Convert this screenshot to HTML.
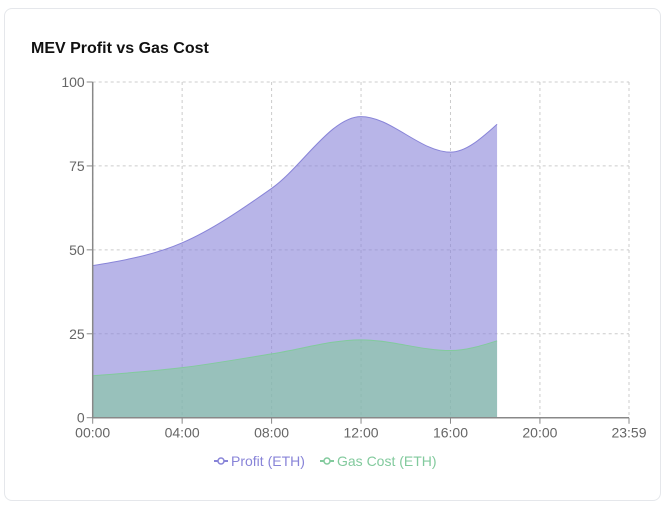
<!DOCTYPE html>
<html><head><meta charset="utf-8"><style>
body{margin:0;background:#fff;font-family:"Liberation Sans",sans-serif;}
.card{position:absolute;left:4px;top:8px;width:655px;height:491px;border:1px solid #e5e7eb;border-radius:8px;background:#fff;}
.title{position:absolute;left:26px;top:31px;font-size:16px;font-weight:bold;color:#111;}
</style></head><body>
<div class="card">
<div class="title">MEV Profit vs Gas Cost</div>
</div>
<svg id="chart" width="666" height="507" style="position:absolute;left:0;top:0"></svg>
<script>
const times = [0, 240, 480, 720, 960, 1085];
const profit = [45.3, 52.1, 68.3, 89.7, 79.1, 87.4];
const gas = [12.5, 14.9, 19, 23.2, 20, 22.9];
const xTicks = [0, 240, 480, 720, 960, 1200, 1439];
const xTickLabels = ["00:00","04:00","08:00","12:00","16:00","20:00","23:59"];
const yTicks = [0, 25, 50, 75, 100];

const X0=92.7,X1=629,Y0=417.7,Y1=82;
const x=t=>X0+(t/1439)*(X1-X0);
const y=v=>Y0-(v/100)*(Y0-Y1);
const svg=document.getElementById('chart');
const NS='http://www.w3.org/2000/svg';
function mk(tag,attrs,parent){const e=document.createElementNS(NS,tag);for(const k in attrs)e.setAttribute(k,attrs[k]);(parent||svg).appendChild(e);return e;}

function monotone(px,py){
  const n=px.length,d=[],m=new Array(n).fill(0);
  for(let i=0;i<n-1;i++)d.push((py[i+1]-py[i])/(px[i+1]-px[i]));
  for(let i=1;i<n-1;i++){const h0=px[i]-px[i-1],h1=px[i+1]-px[i],s0=d[i-1],s1=d[i],p=(s0*h1+s1*h0)/(h0+h1);
    m[i]=(Math.sign(s0)+Math.sign(s1))*Math.min(Math.abs(s0),Math.abs(s1),0.5*Math.abs(p))||0;}
  m[0]=(3*d[0]-m[1])/2; m[n-1]=(3*d[n-2]-m[n-2])/2;
  let s='M'+px[0]+','+py[0];
  for(let i=0;i<n-1;i++){const h=(px[i+1]-px[i])/3;
    s+=` C${px[i]+h},${py[i]+m[i]*h} ${px[i+1]-h},${py[i+1]-m[i+1]*h} ${px[i+1]},${py[i+1]}`;}
  return s;
}
yTicks.forEach(v=>{const g=mk('line',{x1:X0,x2:X1,y1:y(v),y2:y(v),stroke:'#ccc','stroke-dasharray':'3 3'});
});
xTicks.forEach(t=>{const g=mk('line',{x1:x(t),x2:x(t),y1:Y1,y2:Y0,stroke:'#ccc','stroke-dasharray':'3 3'});
});

const px=times.map(x);
[[profit,'#8884d8','profit'],[gas,'#82ca9d','gas-cost']].forEach(([vals,c,name])=>{
  const py=vals.map(y);const line=monotone(px,py);
  const a=mk('path',{d:line+` L${px[px.length-1]},${Y0} L${px[0]},${Y0} Z`,fill:c,'fill-opacity':0.6,stroke:'none'});
  
  const l=mk('path',{d:line,fill:'none',stroke:c,'stroke-width':1});
  
});
const ax=mk('line',{x1:X0,x2:X1,y1:Y0,y2:Y0,stroke:'#888','stroke-width':1.5});

const ay=mk('line',{x1:X0,x2:X0,y1:Y1,y2:Y0,stroke:'#888','stroke-width':1.5});

yTicks.forEach(v=>{mk('line',{x1:X0-6,x2:X0,y1:y(v),y2:y(v),stroke:'#888'});
  const t=mk('text',{x:X0-8,y:y(v)+5,'text-anchor':'end','font-size':14,fill:'#666'});t.textContent=v;
  });
xTicks.forEach((v,i)=>{mk('line',{x1:x(v),x2:x(v),y1:Y0,y2:Y0+6,stroke:'#888'});
  const t=mk('text',{x:x(v),y:Y0+20,'text-anchor':'middle','font-size':14,fill:'#666'});t.textContent=xTickLabels[i];
  });
const legend=[['Profit (ETH)','#8884d8',214],['Gas Cost (ETH)','#82ca9d',320]];
legend.forEach(([lab,c,lx])=>{const g=mk('g',{});
  
  mk('line',{x1:lx,x2:lx+14,y1:461,y2:461,stroke:c,'stroke-width':2},g);
  mk('circle',{cx:lx+7,cy:461,r:3,fill:'#fff',stroke:c,'stroke-width':1.5},g);
  const t=mk('text',{x:lx+17,y:466,'font-size':14,fill:c},g);t.textContent=lab;});
</script>
</body></html>
